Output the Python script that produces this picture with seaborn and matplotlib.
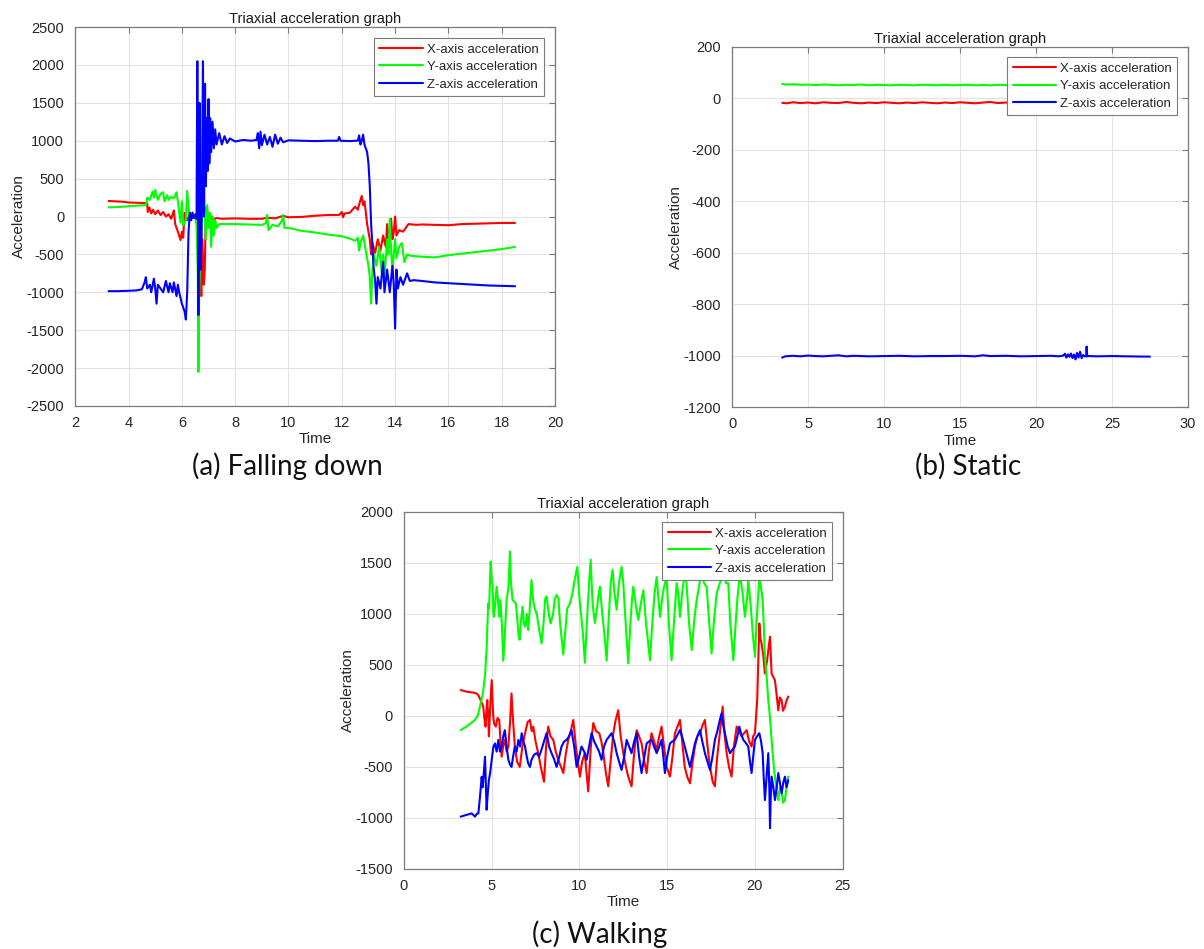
import matplotlib
matplotlib.use("Agg")
import matplotlib.pyplot as plt
import seaborn as sns
import pandas as pd

# ---------------- (a) Falling down ----------------
fall_x_t = [3.25, 3.5, 3.8, 4.0, 4.3, 4.6, 4.7, 4.72, 4.78, 4.85, 4.92, 5.0, 5.1, 5.2, 5.3, 5.4, 5.5, 5.6, 5.7,
            5.75, 5.85, 5.95, 6.0, 6.05, 6.1, 6.2, 6.3, 6.4, 6.5, 6.6, 6.65, 6.7, 6.73, 6.77, 6.82, 6.86, 6.9,
            6.95, 7.0, 7.05, 7.15, 7.3, 7.5, 8.0, 8.5, 9.0, 9.2, 9.5, 9.8, 10.0, 10.5, 11.0, 11.5, 11.9, 12.0,
            12.05, 12.1, 12.3, 12.5, 12.6, 12.7, 12.75, 12.8, 12.85, 12.9, 12.95, 13.0, 13.05, 13.1, 13.15,
            13.25, 13.35, 13.45, 13.55, 13.65, 13.7, 13.75, 13.85, 13.9, 13.95, 14.0, 14.05, 14.15, 14.3,
            14.5, 14.8, 15.0, 15.5, 16.0, 16.5, 17.0, 17.5, 18.0, 18.5]
fall_x_v = [205, 200, 195, 185, 182, 178, 170, 60, 120, 40, 90, 30, 80, 20, 60, 0, 30, -30, 80,
            -100, -200, -310, -200, -280, 50, -50, 30, -20, 30, -50, -400, -800, -1050, -300, -900, -700, 120,
            80, -50, 30, -40, -20, -30, -25, -30, -30, -15, -25, 10, -10, -5, 10, 20, 20, 60,
            -10, 40, 50, 130, 90, 220, 270, 150, 200, 60, -100, -200, -300, -500, -350,
            -480, -300, -450, -250, -400, -100, -350, -30, -300, -200, 0, -250, -180, -200,
            -100, -110, -105, -110, -115, -100, -95, -90, -85, -85]

fall_y_t = [3.25, 3.6, 4.0, 4.4, 4.65, 4.7, 4.8, 4.9, 4.95, 5.0, 5.1, 5.2, 5.3, 5.35, 5.45, 5.5, 5.6, 5.7, 5.8,
            5.85, 5.95, 6.0, 6.05, 6.15, 6.2, 6.25, 6.3, 6.4, 6.5, 6.55, 6.6, 6.62, 6.65, 6.7, 6.75, 6.8,
            6.85, 6.9, 6.95, 7.0, 7.05, 7.1, 7.15, 7.2, 7.25, 7.3, 7.4, 7.6, 8.0, 8.5, 9.0, 9.15, 9.2, 9.25,
            9.4, 9.6, 9.75, 9.8, 9.85, 10.0, 10.5, 11.0, 11.5, 12.0, 12.3, 12.5, 12.6, 12.65, 12.7, 12.8,
            12.9, 13.0, 13.05, 13.1, 13.15, 13.2, 13.3, 13.4, 13.5, 13.55, 13.6, 13.7, 13.75, 13.8, 13.85,
            13.9, 14.0, 14.05, 14.15, 14.25, 14.35, 14.45, 14.6, 15.0, 15.5, 16.0, 16.5, 17.0, 17.5, 18.0, 18.5]
fall_y_v = [120, 125, 135, 145, 150, 250, 220, 330, 250, 350, 220, 300, 320, 200, 280, 220, 260, 240, 320,
            200, -80, 200, -120, -40, 340, 100, -50, 50, -30, -100, -800, -2050, -1000, -400, 200, 600,
            100, -300, 150, -150, 50, -400, 0, -250, -50, -150, -100, -100, -100, -105, -110, -90, 20, -180,
            -110, -130, -60, 20, -150, -150, -190, -210, -240, -260, -290, -320, -280, -450, -350, -250,
            -450, -650, -800, -1150, -700, -500, -650, -400, -750, -500, -800, -300, -500, -30, -450,
            -700, -300, -550, -400, -350, -600, -500, -520, -530, -540, -510, -490, -470, -450, -430, -400]

fall_z_t = [3.25, 3.6, 4.0, 4.3, 4.5, 4.6, 4.65, 4.7, 4.8, 4.85, 4.95, 5.0, 5.05, 5.1, 5.2, 5.3, 5.4, 5.5,
            5.55, 5.65, 5.7, 5.8, 5.85, 5.9, 6.0, 6.1, 6.15, 6.2, 6.25, 6.3, 6.35, 6.4, 6.45, 6.5, 6.55,
            6.58, 6.62, 6.66, 6.7, 6.74, 6.79, 6.83, 6.87, 6.9, 6.94, 6.97, 7.0, 7.03, 7.06, 7.1, 7.15, 7.2,
            7.25, 7.3, 7.4, 7.5, 7.6, 7.7, 7.8, 8.0, 8.3, 8.6, 8.8, 8.85, 8.9, 8.95, 9.0, 9.1, 9.2, 9.3,
            9.4, 9.5, 9.6, 9.7, 9.8, 10.0, 10.5, 11.0, 11.5, 11.85, 11.9, 11.95, 12.3, 12.5, 12.6, 12.65,
            12.7, 12.75, 12.8, 12.85, 12.95, 13.0, 13.05, 13.1, 13.15, 13.2, 13.25, 13.3, 13.35, 13.45,
            13.55, 13.6, 13.7, 13.8, 13.9, 13.95, 14.0, 14.05, 14.1, 14.2, 14.3, 14.45, 14.55, 14.7, 15.0,
            15.5, 16.0, 16.5, 17.0, 17.5, 18.0, 18.5]
fall_z_v = [-985, -985, -980, -975, -960, -870, -800, -950, -900, -1000, -820, -950, -1150, -900, -950, -1000,
            -850, -1000, -880, -1000, -870, -1050, -900, -1000, -1150, -1250, -1360, -1000, -200, 50, -50,
            50, -20, 20, -30, 2050, -1300, 1500, -700, -300, 2050, 0, 1750, 400, 1300, 600, 1550, 700, 1300,
            850, 1250, 900, 1150, 950, 1100, 950, 1060, 970, 1030, 990, 1010, 1000, 1010, 1100, 900, 1120,
            940, 1080, 950, 1050, 920, 1080, 960, 1040, 980, 1005, 1000, 995, 1000, 1000, 1050, 1000, 995,
            1000, 1000, 1070, 950, 1000, 1080, 950, 850, 700, 400, -100, -400, -700, -850, -1150, -800,
            -950, -600, -1000, -700, -1000, -650, -900, -1480, -700, -950, -800, -900, -750, -850, -840,
            -850, -870, -880, -890, -900, -910, -915, -920]

# ---------------- (b) Static ----------------
static_t = [3.3, 3.6, 4.0, 4.5, 5.0, 5.5, 6.0, 6.5, 7.0, 7.5, 8.0, 8.5, 9.0, 9.5, 10.0, 10.5, 11.0, 11.5,
            12.0, 12.5, 13.0, 13.5, 14.0, 14.5, 15.0, 15.5, 16.0, 16.5, 17.0, 17.5, 18.0, 18.5, 19.0, 19.5,
            20.0, 20.5, 21.0, 21.5, 22.0, 22.5, 23.0, 23.5, 24.0, 24.5, 25.0, 25.5, 26.0, 26.5, 27.0, 27.5]
static_x = [-18, -20, -16, -19, -17, -20, -16, -18, -19, -15, -18, -20, -17, -19, -16, -18, -20, -17,
            -19, -16, -18, -20, -17, -19, -16, -18, -20, -17, -15, -19, -17, -20, -16, -18, -19, -17,
            -18, -20, -16, -18, -19, -17, -18, -20, -16, -18, -19, -17, -18, -19]
static_y = [55, 53, 54, 52, 53, 51, 53, 52, 50, 52, 51, 53, 50, 52, 51, 50, 52, 51, 50, 52, 51, 50, 52,
            50, 51, 52, 50, 51, 50, 52, 51, 50, 51, 52, 50, 51, 50, 52, 51, 50, 51, 50, 52, 51, 50, 51,
            50, 51, 50, 51]
static_z_t = [3.3, 3.5, 4.0, 4.5, 5.0, 5.5, 6.0, 6.5, 7.0, 7.5, 8.0, 8.5, 9.0, 10.0, 11.0, 12.0, 13.0,
              14.0, 15.0, 16.0, 16.5, 17.0, 18.0, 19.0, 20.0, 21.0, 21.5, 21.8, 21.9, 22.0, 22.1, 22.2,
              22.3, 22.4, 22.5, 22.6, 22.7, 22.8, 22.9, 23.0, 23.1, 23.2, 23.3, 23.33, 23.37, 23.5, 24.0,
              25.0, 26.0, 27.0, 27.5]
static_z = [-1008, -1003, -1001, -1003, -1000, -1002, -1003, -1001, -999, -1003, -1001, -1002, -1003,
            -1002, -1001, -1003, -1002, -1002, -1001, -1003, -999, -1002, -1001, -1003, -1002, -1001,
            -1003, -1000, -993, -1008, -995, -1005, -992, -1010, -996, -1015, -990, -1008, -985, -1010,
            -998, -1003, -1003, -965, -1003, -1002, -1003, -1002, -1003, -1004, -1004]

# ---------------- (c) Walking ----------------
walk_x_t = [3.23, 3.57, 3.8, 3.95, 4.14, 4.25, 4.33, 4.43, 4.52, 4.58, 4.65, 4.7, 4.75, 4.8, 4.84, 4.92,
            5.0, 5.05, 5.09, 5.15, 5.24, 5.33, 5.43, 5.5, 5.57, 5.65, 5.75, 5.85, 5.95, 6.05, 6.13, 6.2,
            6.32, 6.45, 6.6, 6.75, 6.9, 7.05, 7.18, 7.28, 7.37, 7.5, 7.65, 7.8, 7.98, 8.1, 8.22, 8.35,
            8.51, 8.65, 8.79, 8.95, 9.08, 9.2, 9.36, 9.5, 9.65, 9.8, 9.9, 10.03, 10.15, 10.31, 10.4, 10.5,
            10.65, 10.79, 10.95, 11.13, 11.25, 11.36, 11.5, 11.64, 11.8, 11.93, 12.05, 12.21, 12.35, 12.5,
            12.65, 12.78, 12.97, 13.1, 13.26, 13.4, 13.54, 13.7, 13.83, 13.95, 14.11, 14.25, 14.4, 14.55,
            14.68, 14.82, 14.97, 15.16, 15.3, 15.44, 15.6, 15.73, 15.88, 16.0, 16.15, 16.3, 16.45, 16.58,
            16.72, 16.87, 17.0, 17.15, 17.3, 17.44, 17.6, 17.72, 17.85, 18.0, 18.16, 18.28, 18.39, 18.52,
            18.67, 18.8, 18.96, 19.1, 19.24, 19.38, 19.53, 19.67, 19.81, 19.9, 20.0, 20.13, 20.2, 20.25,
            20.32, 20.38, 20.47, 20.57, 20.7, 20.8, 20.86, 20.95, 21.05, 21.14, 21.24, 21.33, 21.42, 21.52,
            21.6, 21.71, 21.8, 21.9]
walk_x_v = [253, 237, 232, 228, 220, 200, 170, 130, 90, -20, -105, 50, 155, 0, -200, 100,
            350, 150, -10, -80, -105, -20, -40, -250, -400, -300, -235, -350, -300, -50, 220, 0,
            -300, -450, -500, -300, -170, -60, -40, -150, -105, -250, -365, -500, -645, -300, -105, -200,
            -235, -350, -430, -500, -560, -400, -235, -150, -40, -300, -450, -595, -450, -365, -550, -740,
            -300, -70, -150, -170, -250, -365, -550, -690, -400, -170, -50, 55, -200, -365,
            -500, -595, -690, -400, -140, -200, -270, -450, -560, -350, -170, -250, -330, -200,
            -105, -300, -500, -595, -400, -170, -100, -40, -300, -500, -600, -660, -450, -300,
            -200, -170, -100, -40, -300, -500, -650, -690, -400, -170, 90, -200, -365, -500,
            -595, -300, -105, -150, -200, -170, -140, -250, -300, -200, -170, 155, 600, 905,
            750, 710, 600, 415, 550, 700, 775, 415, 380, 350, 200, 55, 180, 155,
            50, 90, 150, 190]

walk_y_t = [3.23, 3.6, 4.05, 4.2, 4.33, 4.45, 4.52, 4.62, 4.71, 4.76, 4.8, 4.85, 4.9, 4.94, 5.0, 5.05,
            5.1, 5.13, 5.2, 5.28, 5.35, 5.43, 5.5, 5.58, 5.66, 5.75, 5.85, 5.95, 6.04, 6.1, 6.19, 6.28,
            6.38, 6.48, 6.55, 6.6, 6.68, 6.76, 6.83, 6.91, 7.0, 7.08, 7.15, 7.27, 7.35, 7.45, 7.56, 7.7,
            7.84, 7.95, 8.05, 8.13, 8.25, 8.36, 8.5, 8.6, 8.7, 8.8, 8.9, 9.08, 9.2, 9.3, 9.46, 9.6, 9.75,
            9.88, 9.98, 10.07, 10.2, 10.31, 10.42, 10.55, 10.64, 10.75, 10.88, 11.0, 11.1, 11.17, 11.3,
            11.45, 11.55, 11.65, 11.78, 11.89, 12.0, 12.12, 12.25, 12.4, 12.5, 12.6, 12.78, 12.9, 13.0,
            13.07, 13.2, 13.35, 13.5, 13.64, 13.8, 14.02, 14.15, 14.28, 14.4, 14.5, 14.59, 14.75, 14.87,
            14.97, 15.1, 15.25, 15.38, 15.54, 15.63, 15.73, 15.85, 16.0, 16.1, 16.25, 16.4, 16.55, 16.68,
            16.8, 16.96, 17.1, 17.25, 17.4, 17.53, 17.65, 17.82, 18.0, 18.2, 18.35, 18.48, 18.6, 18.77,
            18.9, 19.0, 19.15, 19.3, 19.43, 19.55, 19.62, 19.75, 19.88, 20.0, 20.12, 20.25, 20.35, 20.44,
            20.5, 20.57, 20.66, 20.76, 20.85, 20.95, 21.05, 21.14, 21.25, 21.33, 21.42, 21.52, 21.6, 21.71,
            21.8, 21.9]
walk_y_v = [-140, -100, -40, 0, 90, 180, 250, 400, 650, 900, 1100, 1050, 1300, 1510, 1350, 1265,
            1000, 970, 1100, 1265, 1150, 970, 1135, 900, 540, 800, 1135, 1250, 1610, 1300, 1135, 1120,
            1100, 900, 760, 745, 950, 1070, 900, 875, 1000, 840, 1000, 1330, 1150, 1050, 1005, 850,
            710, 900, 1150, 1170, 1000, 905, 1000, 1150, 1185, 1150, 900, 600, 850, 1050, 1100, 1200, 1350,
            1460, 1200, 1040, 800, 520, 900, 1300, 1530, 1100, 910, 1050, 1200, 1265, 1000,
            750, 540, 900, 1300, 1430, 1200, 1040, 1300, 1460, 1300, 1000, 515, 900, 1150,
            1265, 1100, 940, 1100, 1230, 900, 545, 900, 1200, 1360, 1150, 970, 1200, 1300,
            1360, 900, 545, 900, 1300, 1200, 970, 1200, 1400, 1300, 900, 645, 950, 1135,
            1250, 1420, 1300, 1265, 900, 610, 900, 1200, 1300, 1440, 1300, 1300, 900, 545,
            900, 1150, 1400, 1200, 970, 1150, 1330, 1100, 800, 580, 1000, 1360, 1250, 1135,
            900, 580, 400, 155, 0, -235, -450, -595, -750, -825, -700, -725, -850, -825,
            -700, -595]

walk_z_t = [3.23, 3.57, 3.86, 4.05, 4.15, 4.24, 4.33, 4.43, 4.48, 4.52, 4.58, 4.62, 4.67, 4.71, 4.78, 4.84,
            4.92, 5.0, 5.1, 5.19, 5.28, 5.38, 5.47, 5.57, 5.66, 5.75, 5.85, 5.95, 6.05, 6.13, 6.22, 6.32,
            6.42, 6.52, 6.62, 6.71, 6.8, 6.9, 7.0, 7.08, 7.18, 7.27, 7.42, 7.56, 7.7, 7.84, 7.98, 8.13,
            8.27, 8.41, 8.55, 8.7, 8.85, 8.98, 9.13, 9.27, 9.41, 9.55, 9.7, 9.84, 9.98, 10.12, 10.27, 10.41,
            10.55, 10.69, 10.84, 10.98, 11.12, 11.26, 11.4, 11.55, 11.7, 11.83, 11.98, 12.12, 12.26, 12.4,
            12.55, 12.69, 12.83, 12.97, 13.12, 13.26, 13.4, 13.54, 13.7, 13.83, 13.97, 14.11, 14.25, 14.4,
            14.55, 14.68, 14.78, 14.87, 15.0, 15.16, 15.3, 15.44, 15.6, 15.73, 15.88, 16.0, 16.15, 16.3,
            16.45, 16.58, 16.72, 16.87, 17.0, 17.15, 17.3, 17.44, 17.58, 17.72, 17.86, 18.0, 18.1, 18.2,
            18.29, 18.45, 18.58, 18.72, 18.86, 19.0, 19.11, 19.22, 19.34, 19.5, 19.62, 19.72, 19.81, 19.9,
            20.0, 20.12, 20.25, 20.35, 20.44, 20.5, 20.57, 20.66, 20.76, 20.82, 20.86, 20.9, 20.95, 21.05,
            21.14, 21.24, 21.33, 21.42, 21.52, 21.62, 21.71, 21.8, 21.9]
walk_z_v = [-987, -970, -955, -987, -960, -955, -800, -597, -700, -630, -500, -400, -700, -920, -750, -630,
            -550, -430, -300, -270, -350, -235, -350, -300, -200, -140, -300, -430, -480, -500, -400, -300,
            -350, -235, -300, -170, -250, -300, -400, -465, -500, -430, -380, -365, -400, -330, -250, -170,
            -300, -365, -420, -500, -400, -300, -250, -235, -200, -140, -300, -500, -400, -300, -350, -430,
            -300, -170, -250, -300, -350, -430, -300, -235, -200, -170, -250, -365, -450, -530,
            -400, -235, -300, -365, -250, -170, -400, -560, -400, -270, -250, -235, -300, -365,
            -300, -235, -400, -560, -400, -270, -250, -235, -180, -140, -220, -300, -400, -500,
            -380, -270, -200, -140, -250, -365, -450, -530, -400, -235, -150, -40, 25, -100,
            -170, -300, -365, -330, -300, -200, -105, -180, -235, -270, -300, -450, -560, -400,
            -235, -200, -170, -250, -365, -600, -825, -600, -365, -700, -1100, -800, -595, -700,
            -825, -700, -560, -650, -760, -650, -595, -700, -630]

series_labels = ["X-axis acceleration", "Y-axis acceleration", "Z-axis acceleration"]
series_colors = ["#ff0000", "#00ff00", "#0000ff"]

sns.set_theme(style="white")
plt.rcParams["font.family"] = ["Liberation Sans", "DejaVu Sans"]
plt.rcParams["axes.unicode_minus"] = False

fig = plt.figure(figsize=(12.04, 9.49), dpi=100)
ax_a = fig.add_axes([0.0625, 0.5722, 0.3985, 0.3993])
ax_b = fig.add_axes([0.608, 0.5711, 0.3787, 0.3797])
ax_c = fig.add_axes([0.3355, 0.0843, 0.3644, 0.3765])

panels = [
    (ax_a, [(fall_x_t, fall_x_v), (fall_y_t, fall_y_v), (fall_z_t, fall_z_v)],
     (2, 20), list(range(2, 21, 2)), (-2500, 2500), list(range(-2500, 2501, 500))),
    (ax_b, [(static_t, static_x), (static_t, static_y), (static_z_t, static_z)],
     (0, 30), list(range(0, 31, 5)), (-1200, 200), list(range(-1200, 201, 200))),
    (ax_c, [(walk_x_t, walk_x_v), (walk_y_t, walk_y_v), (walk_z_t, walk_z_v)],
     (0, 25), list(range(0, 26, 5)), (-1500, 2000), list(range(-1500, 2001, 500))),
]

for ax, data, xl, xt, yl, yt in panels:
    for (t, v), lab, col in zip(data, series_labels, series_colors):
        df = pd.DataFrame({"Time": t, "Acceleration": v})
        sns.lineplot(data=df, x="Time", y="Acceleration", ax=ax, color=col, lw=1.5,
                     label=lab, sort=False, estimator=None)
    ax.set_xlim(*xl)
    ax.set_ylim(*yl)
    ax.set_xticks(xt)
    ax.set_yticks(yt)
    ax.grid(True, color="#e3e3e3", lw=0.8)
    ax.set_axisbelow(True)
    for s in ax.spines.values():
        s.set_color("#7a7a7a")
        s.set_linewidth(0.9)
    ax.tick_params(direction="in", length=4, width=0.8, color="#7a7a7a",
                   top=True, right=True, labelsize=10.5, labelcolor="#262626")
    ax.tick_params(axis="y", pad=8)
    ax.tick_params(axis="x", pad=7)
    ax.set_title("Triaxial acceleration graph", fontsize=10.5, color="#1a1a1a", pad=3)
    ax.set_xlabel("Time", fontsize=11, color="#262626", labelpad=2)
    ax.set_ylabel("Acceleration", fontsize=11, color="#262626", labelpad=0)
    leg = ax.legend(loc="upper right", bbox_to_anchor=(0.976, 0.971), fontsize=9.5,
                    frameon=True, fancybox=False, framealpha=1, edgecolor="#7a7a7a",
                    handlelength=3.3, handletextpad=0.3, borderpad=0.4, labelspacing=0.4,
                    borderaxespad=0)
    leg.get_frame().set_linewidth(0.8)

cap_font = ["Lato", "DejaVu Sans"]
fig.text(287 / 1204, 1 - 466 / 949, "(a) Falling down", ha="center", va="center", fontsize=20,
         family=cap_font, color="#111111")
fig.text(968 / 1204, 1 - 466 / 949, "(b) Static", ha="center", va="center", fontsize=20,
         family=cap_font, color="#111111")
fig.text(600 / 1204, 1 - 934 / 949, "(c) Walking", ha="center", va="center", fontsize=20,
         family=cap_font, color="#111111")

fig.savefig("out.png", dpi=100)
